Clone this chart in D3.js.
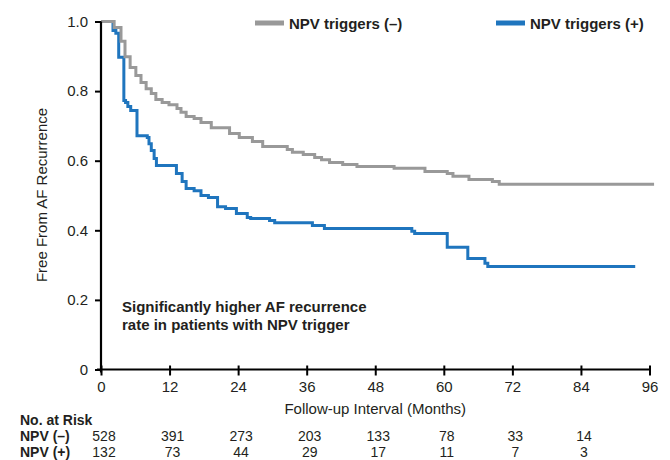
<!DOCTYPE html>
<html>
<head>
<meta charset="utf-8">
<script src="https://cdn.jsdelivr.net/npm/d3@7/dist/d3.min.js"></script>
<style>
  html, body { margin: 0; padding: 0; background: #fff; }
  svg { display: block; font-family: "Liberation Sans", Arial, Helvetica, sans-serif; }
</style>
</head>
<body>
<svg id="chart" width="670" height="460"></svg>
<script>
// Kaplan–Meier estimates: month at which each step begins, and survival after it
const negTimes = [0, 2.3, 3.5, 4.2, 5.1, 6.1, 7.0, 7.9, 8.8, 9.6, 10.7, 11.9, 13.3, 14.0, 14.9, 16.3, 17.5, 19.3, 22.5, 24.2, 26.5, 28.3, 32.6, 33.5, 35.4, 37.4, 38.6, 40.0, 42.3, 44.8, 51.3, 56.7, 60.6, 61.6, 64.4, 68.5, 69.7];
const negSurv  = [1.0, 0.983, 0.943, 0.899, 0.868, 0.845, 0.825, 0.807, 0.793, 0.776, 0.767, 0.761, 0.750, 0.739, 0.727, 0.721, 0.710, 0.695, 0.678, 0.667, 0.655, 0.641, 0.632, 0.624, 0.618, 0.609, 0.603, 0.595, 0.589, 0.583, 0.578, 0.569, 0.563, 0.555, 0.546, 0.540, 0.532];
const negEnd = 96.8;

const posTimes = [0, 2.1, 2.6, 3.1, 4.0, 4.3, 4.7, 5.2, 6.3, 8.1, 8.4, 8.8, 9.3, 9.7, 13.2, 14.2, 14.9, 16.3, 17.5, 18.8, 20.4, 21.8, 23.7, 25.6, 26.2, 29.5, 30.4, 37.0, 39.1, 54.4, 54.9, 60.6, 64.2, 67.2, 67.7];
const posSurv  = [1.0, 0.974, 0.966, 0.897, 0.773, 0.767, 0.756, 0.744, 0.672, 0.667, 0.649, 0.629, 0.606, 0.586, 0.563, 0.540, 0.520, 0.514, 0.500, 0.494, 0.468, 0.463, 0.448, 0.437, 0.434, 0.428, 0.422, 0.414, 0.405, 0.397, 0.391, 0.351, 0.319, 0.305, 0.296];
const posEnd = 93.5;

// Axis ticks
const monthTicks = [0, 12, 24, 36, 48, 60, 72, 84, 96];
const survTicks = [0, 0.2, 0.4, 0.6, 0.8, 1.0];

// Numbers at risk
const riskMonths = [0, 12, 24, 36, 48, 60, 72, 84];
const riskNeg = [528, 391, 273, 203, 133, 78, 33, 14];
const riskPos = [132, 73, 44, 29, 17, 11, 7, 3];

const seriesNames = ["NPV triggers (\u2013)", "NPV triggers (+)"];
const rowLabels = ["NPV (\u2013)", "NPV (+)"];
const colors = ["#999999", "#1f75be"];
const ink = "#231f20";

const svg = d3.select("#chart");
const x = d3.scaleLinear().domain([0, 96]).range([101, 649.5]);
const y = d3.scaleLinear().domain([0, 1]).range([369.5, 21.5]);

// Survival step curves
const step = d3.line()
  .x(d => x(d[0]))
  .y(d => y(d[1]))
  .curve(d3.curveStepAfter);

function toPoints(times, surv, end) {
  const pts = times.map((t, i) => [t, surv[i]]);
  pts.push([end, surv[surv.length - 1]]);
  return pts;
}

const curves = svg.append("g").attr("fill", "none").attr("stroke-width", 3);
curves.append("path")
  .attr("d", step(toPoints(posTimes, posSurv, posEnd)))
  .attr("stroke", colors[1]);
curves.append("path")
  .attr("d", step(toPoints(negTimes, negSurv, negEnd)))
  .attr("stroke", colors[0]);

// Y axis
const yAxis = svg.append("g")
  .attr("transform", `translate(${x(0)},0)`)
  .call(d3.axisLeft(y).tickValues(survTicks)
    .tickFormat(d => d === 0 ? "0" : d3.format(".1f")(d))
    .tickSize(6).tickSizeOuter(0).tickPadding(7));
yAxis.select(".domain").attr("stroke", "#000").attr("stroke-width", 2.2)
  .attr("d", `M0,${y(1)}V${y(0) + 3}`);
yAxis.selectAll(".tick line").attr("stroke", "#000").attr("stroke-width", 2);
yAxis.selectAll(".tick text").attr("fill", ink).style("font-size", "15px");

// X axis
const xAxis = svg.append("g")
  .attr("transform", `translate(0,${y(0)})`)
  .call(d3.axisBottom(x).tickValues(monthTicks)
    .tickSize(6).tickSizeOuter(0).tickPadding(6));
xAxis.select(".domain").attr("stroke", "#000").attr("stroke-width", 2.2)
  .attr("d", `M${x(0) - 4},0H${x(96) + 1}`);
xAxis.selectAll(".tick line").attr("stroke", "#000").attr("stroke-width", 2)
  .attr("y1", -4);
xAxis.selectAll(".tick text").attr("fill", ink).style("font-size", "15px");

// Axis titles
svg.append("text")
  .attr("transform", `translate(47,195) rotate(-90)`)
  .attr("text-anchor", "middle")
  .attr("fill", ink).style("font-size", "15px")
  .text("Free From AF Recurrence");

svg.append("text")
  .attr("x", x(48)).attr("y", 414)
  .attr("text-anchor", "middle")
  .attr("fill", ink).style("font-size", "15px")
  .text("Follow-up Interval (Months)");

// Legend
const legendX = [255, 496];
const legend = svg.append("g");
seriesNames.forEach((name, i) => {
  legend.append("line")
    .attr("x1", legendX[i]).attr("x2", legendX[i] + 29)
    .attr("y1", 23).attr("y2", 23)
    .attr("stroke", colors[i]).attr("stroke-width", 5);
  legend.append("text")
    .attr("x", legendX[i] + 34).attr("y", 28.5)
    .attr("fill", ink).style("font-size", "15px").style("font-weight", "bold")
    .text(name);
});

// Annotation
const note = svg.append("text")
  .attr("fill", ink).style("font-size", "15px").style("font-weight", "bold");
note.append("tspan").attr("x", 122).attr("y", 312).text("Significantly higher AF recurrence");
note.append("tspan").attr("x", 122).attr("y", 330).text("rate in patients with NPV trigger");

// Numbers at risk table
const table = svg.append("g").attr("fill", ink).style("font-size", "14px");
table.append("text").attr("x", 20).attr("y", 425)
  .style("font-weight", "bold").text("No. at Risk");
[riskNeg, riskPos].forEach((row, r) => {
  const yy = 441 + r * 16;
  table.append("text").attr("x", 20).attr("y", yy)
    .style("font-weight", "bold").text(rowLabels[r]);
  table.selectAll(null).data(row).enter().append("text")
    .attr("x", (d, i) => x(riskMonths[i]) + 3)
    .attr("y", yy)
    .attr("text-anchor", "middle")
    .text(d => d);
});
</script>
</body>
</html>
